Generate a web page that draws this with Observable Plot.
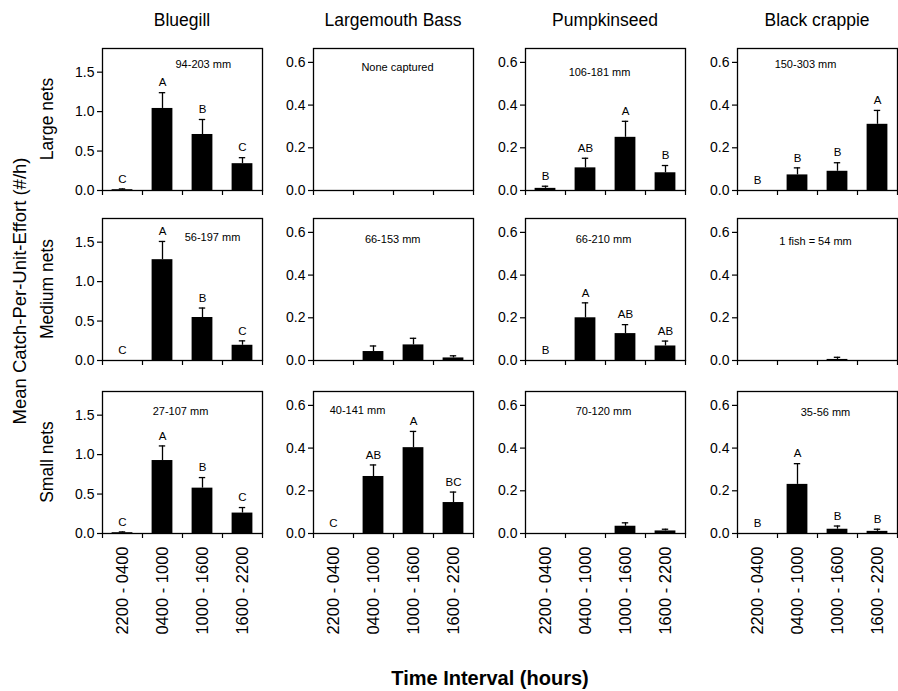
<!DOCTYPE html>
<html><head><meta charset="utf-8">
<script src="https://cdn.jsdelivr.net/npm/d3@7"></script>
<script src="https://cdn.jsdelivr.net/npm/@observablehq/plot@0.6"></script>
<style>
body{margin:0;background:#fff;}
#fig{position:relative;width:898px;height:691px;font-family:"Liberation Sans",Arial,sans-serif;color:#000;overflow:hidden;background:#fff}
.lab{position:absolute;white-space:nowrap;line-height:1;}
#fig svg{position:absolute;overflow:visible;}
</style></head><body><div id="fig"></div>
<script>
// ---- data ----
const species = ["Bluegill", "Largemouth Bass", "Pumpkinseed", "Black crappie"];
const nets = ["Large nets", "Medium nets", "Small nets"];
const intervals = ["2200 - 0400", "0400 - 1000", "1000 - 1600", "1600 - 2200"];

// mean CPUE [net][species][interval]
const largeMeans  = [[0.01, 1.04, 0.71, 0.34], [0, 0, 0, 0], [0.01, 0.106, 0.249, 0.083], [0, 0.073, 0.09, 0.31]];
const largeErr    = [[0.01, 0.20, 0.19, 0.076], [0, 0, 0, 0], [0.01, 0.045, 0.075, 0.034], [0, 0.033, 0.04, 0.065]];
const mediumMeans = [[0, 1.278, 0.545, 0.193], [0, 0.042, 0.073, 0.012], [0, 0.2, 0.126, 0.068], [0, 0, 0.005, 0]];
const mediumErr   = [[0, 0.231, 0.12, 0.056], [0, 0.026, 0.031, 0.01], [0, 0.07, 0.042, 0.023], [0, 0, 0.01, 0]];
const smallMeans  = [[0.01, 0.925, 0.575, 0.259], [0, 0.267, 0.402, 0.145], [0, 0, 0.034, 0.012], [0, 0.23, 0.02, 0.01]];
const smallErr    = [[0.01, 0.185, 0.134, 0.07], [0, 0.054, 0.076, 0.049], [0, 0, 0.016, 0.008], [0, 0.097, 0.015, 0.01]];

const largeLetters  = [["C","A","B","C"], null, ["B","AB","A","B"], ["B","B","B","A"]];
const mediumLetters = [["C","A","B","C"], null, ["B","A","AB","AB"], null];
const smallLetters  = [["C","A","B","C"], ["C","AB","A","BC"], null, ["B","A","B","B"]];

const largeNotes  = ["94-203 mm", "None captured", "106-181 mm", "150-303 mm"];
const mediumNotes = ["56-197 mm", "66-153 mm", "66-210 mm", "1 fish = 54 mm"];
const smallNotes  = ["27-107 mm", "40-141 mm", "70-120 mm", "35-56 mm"];

const bluegillTicks = [0, 0.5, 1.0, 1.5];
const otherTicks = [0, 0.2, 0.4, 0.6];

// ---- layout (kept separate from data) ----
const means = [largeMeans, mediumMeans, smallMeans];
const errs = [largeErr, mediumErr, smallErr];
const letters = [largeLetters, mediumLetters, smallLetters];
const notes = [largeNotes, mediumNotes, smallNotes];
const notePos = [ // [x in band units, px below frame top]
  [[2.52, 16], [2.1, 19], [1.85, 24], [1.7, 16]],
  [[2.75, 19], [1.98, 21], [1.95, 21], [1.95, 23]],
  [[1.95, 20], [1.1, 19], [1.95, 20], [2.2, 21]]
];
const frameLeft = [102, 313, 525, 737], frameW = 160;
const frameTop = [48, 218, 391], frameH = 142;
const FONT = '"Liberation Sans", Arial, Helvetica, sans-serif';
const fig = document.getElementById("fig");

function label(text, x, y, size, opts = {}) {
  const d = document.createElement("div");
  d.className = "lab";
  d.textContent = text;
  d.style.left = x + "px";
  d.style.top = y + "px";
  d.style.fontSize = size + "px";
  d.style.transform = `translate(-50%,-50%)${opts.rotate ? " rotate(-90deg)" : ""}`;
  if (opts.bold) d.style.fontWeight = "bold";
  fig.appendChild(d);
}

for (let r = 0; r < 3; r++) {
  for (let c = 0; c < 4; c++) {
    const ymax = c === 0 ? 1.8 : 0.665;
    const ticks = c === 0 ? bluegillTicks : otherTicks;
    const rows = intervals.map((name, i) => ({i, name, v: means[r][c][i], e: errs[r][c][i], L: letters[r][c] ? letters[r][c][i] : null}));
    const mL = 46, mR = 3, mT = 3, mB = r === 2 ? 125 : 10;
    const marks = [
      Plot.rect(rows.filter(d => d.v > 0), {x1: d => d.i + 0.24, x2: d => d.i + 0.76, y1: 0, y2: d => d.v, fill: "black"}),
      Plot.ruleX(rows.filter(d => d.e > 0), {x: d => d.i + 0.5, y1: d => d.v, y2: d => d.v + d.e, stroke: "black", strokeWidth: 1.3}),
      Plot.ruleY(rows.filter(d => d.e > 0), {y: d => d.v + d.e, x1: d => d.i + 0.42, x2: d => d.i + 0.58, stroke: "black", strokeWidth: 1.3}),
      Plot.text(rows.filter(d => d.L), {x: d => d.i + 0.5, y: d => d.v + d.e, text: d => d.L, dy: -10, fontSize: 11.5, fill: "black"}),
      Plot.text([notes[r][c]], {x: notePos[r][c][0], y: ymax, dy: notePos[r][c][1], text: d => d, fontSize: 11, fill: "black"}),
      Plot.frame({stroke: "black", strokeWidth: 1.3}),
      Plot.axisY({ticks, tickFormat: d3.format(".1f"), tickSize: 5, tickPadding: 3, fontSize: 14, label: null, strokeWidth: 1.2}),
      Plot.axisX({ticks: [0, 1, 2, 3, 4], tickFormat: () => "", tickSize: 5, label: null, strokeWidth: 1.2})
    ];
    if (r === 2) marks.push(Plot.axisX({ticks: [0.5, 1.5, 2.5, 3.5], tickFormat: d => intervals[Math.floor(d)], tickRotate: -90, tickSize: 0, tickPadding: 13, fontSize: 16.5, label: null}));
    const svg = Plot.plot({
      width: mL + frameW + mR, height: mT + frameH + mB,
      marginLeft: mL, marginRight: mR, marginTop: mT, marginBottom: mB,
      x: {domain: [0, 4]}, y: {domain: [0, ymax]},
      style: {fontFamily: FONT, background: "transparent", color: "black", overflow: "visible"},
      marks
    });
    svg.style.left = (frameLeft[c] - mL) + "px";
    svg.style.top = (frameTop[r] - mT) + "px";
    fig.appendChild(svg);
  }
}

species.forEach((s, c) => label(s, frameLeft[c] + frameW / 2, 21, 17.5));
nets.forEach((n, r) => label(n, 48, frameTop[r] + frameH / 2, 17.5, {rotate: true}));
label("Mean Catch-Per-Unit-Effort (#/h)", 20, 291, 18.5, {rotate: true});
label("Time Interval (hours)", 490, 678, 20, {bold: true});
</script></body></html>
